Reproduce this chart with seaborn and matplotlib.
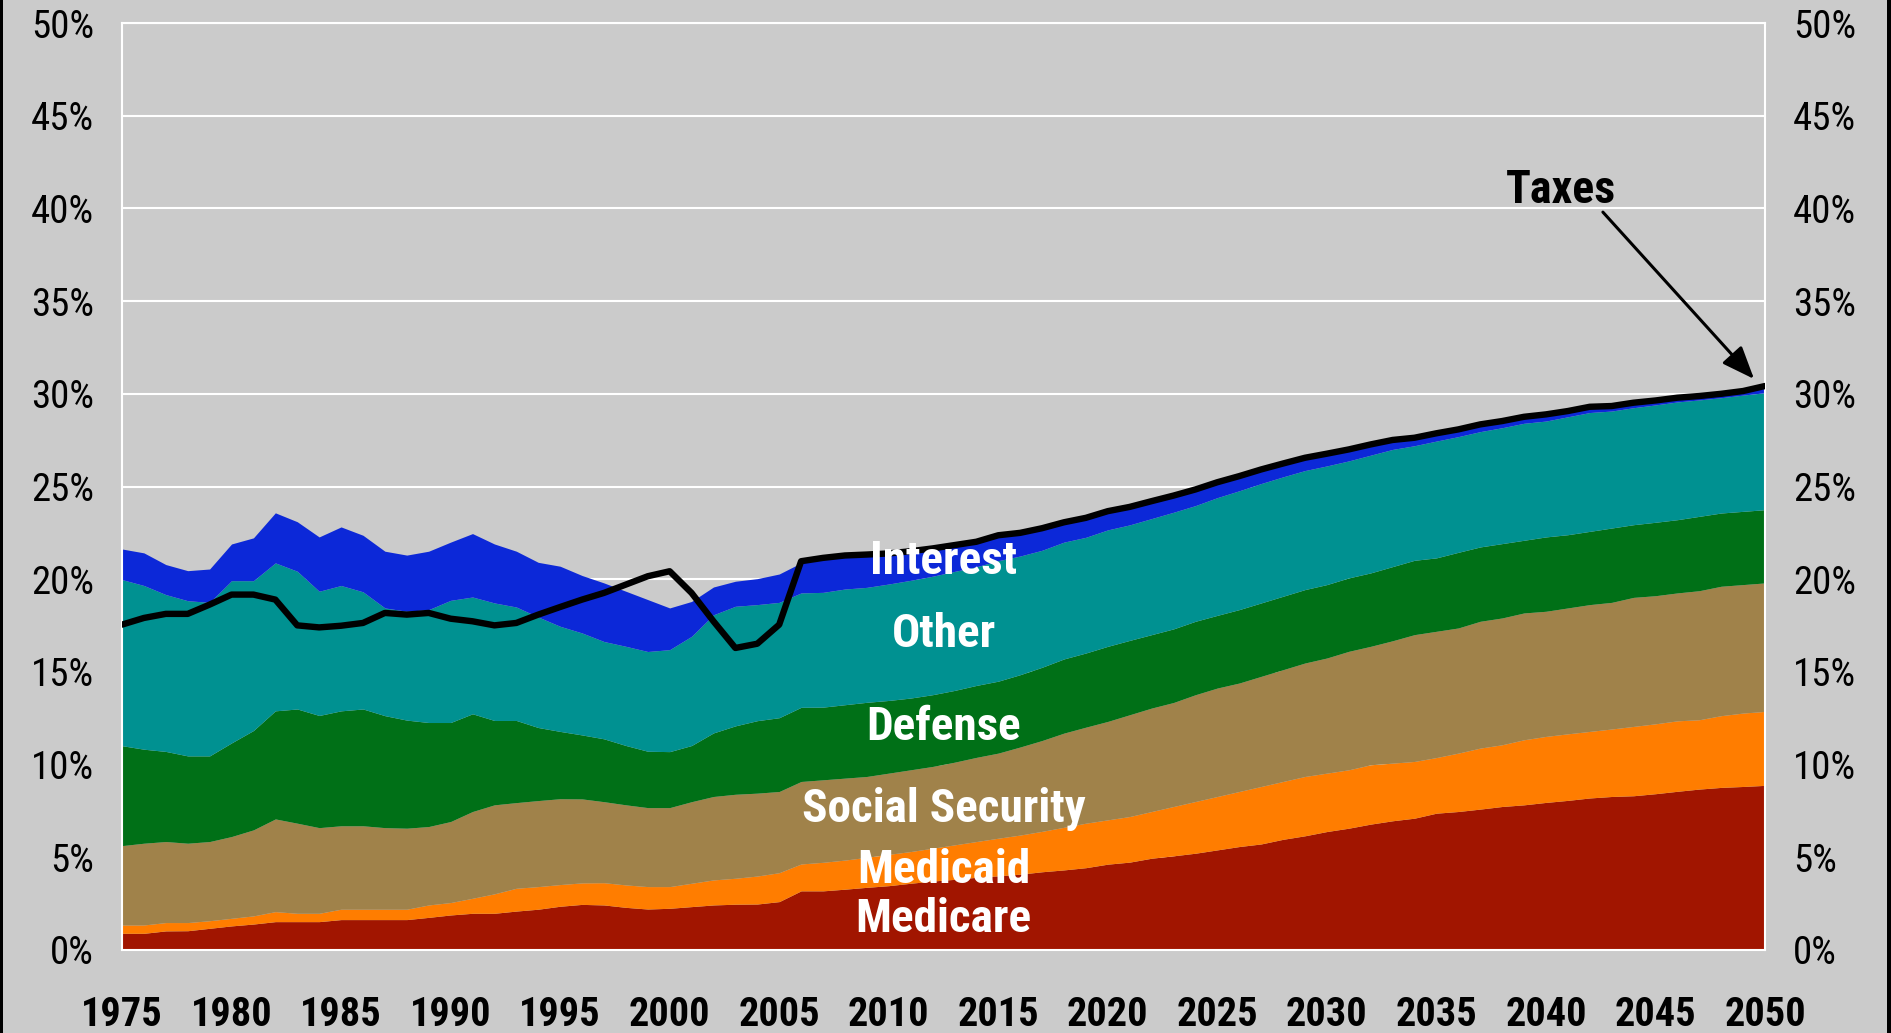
import numpy as np
import pandas as pd
import matplotlib
matplotlib.use("Agg")
import matplotlib.pyplot as plt
from matplotlib.patches import Rectangle
from matplotlib import font_manager
import seaborn as sns

# ---------------- data (percent of GDP; upper edge of each stacked band) ----------------
years = list(range(1975, 2051))

medicare_top = [0.90, 0.90, 1.03, 1.04, 1.17, 1.30, 1.40, 1.53, 1.53, 1.53,
                1.64, 1.64, 1.64, 1.64, 1.76, 1.89, 1.98, 1.98, 2.10, 2.20,
                2.36, 2.46, 2.43, 2.30, 2.21, 2.25, 2.34, 2.43, 2.47, 2.48,
                2.61, 3.19, 3.19, 3.28, 3.38, 3.47, 3.60, 3.72, 3.81, 3.92,
                4.00, 4.09, 4.22, 4.32, 4.44, 4.63, 4.74, 4.95, 5.08, 5.22,
                5.40, 5.58, 5.72, 5.97, 6.16, 6.39, 6.57, 6.79, 6.97, 7.11,
                7.38, 7.47, 7.60, 7.74, 7.83, 7.96, 8.07, 8.20, 8.28, 8.32,
                8.43, 8.56, 8.68, 8.77, 8.82, 8.88]

medicaid_top = [1.35, 1.35, 1.48, 1.48, 1.58, 1.71, 1.84, 2.07, 1.98, 1.98,
                2.20, 2.20, 2.20, 2.20, 2.43, 2.56, 2.79, 3.03, 3.33, 3.42,
                3.53, 3.62, 3.63, 3.51, 3.42, 3.42, 3.60, 3.78, 3.87, 3.99,
                4.17, 4.64, 4.73, 4.85, 5.00, 5.16, 5.31, 5.49, 5.67, 5.85,
                6.03, 6.20, 6.40, 6.62, 6.84, 7.02, 7.20, 7.47, 7.74, 8.01,
                8.28, 8.55, 8.82, 9.09, 9.36, 9.54, 9.72, 9.99, 10.08, 10.17,
                10.38, 10.62, 10.89, 11.07, 11.34, 11.52, 11.66, 11.79, 11.92, 12.06,
                12.20, 12.36, 12.42, 12.64, 12.78, 12.87]

socsec_top = [5.63, 5.76, 5.85, 5.76, 5.85, 6.12, 6.48, 7.07, 6.84, 6.60,
              6.70, 6.70, 6.60, 6.57, 6.66, 6.93, 7.47, 7.83, 7.95, 8.06,
              8.16, 8.15, 8.00, 7.83, 7.68, 7.68, 8.00, 8.28, 8.40, 8.46,
              8.55, 9.09, 9.18, 9.27, 9.36, 9.54, 9.72, 9.90, 10.13, 10.39,
              10.62, 10.95, 11.30, 11.70, 12.02, 12.33, 12.69, 13.05, 13.35, 13.77,
              14.13, 14.40, 14.76, 15.12, 15.48, 15.75, 16.11, 16.38, 16.68, 17.01,
              17.19, 17.37, 17.73, 17.91, 18.18, 18.27, 18.45, 18.63, 18.75, 19.02,
              19.11, 19.26, 19.38, 19.62, 19.71, 19.80]

defense_top = [11.02, 10.83, 10.71, 10.47, 10.47, 11.17, 11.84, 12.90, 13.00, 12.65,
               12.90, 13.00, 12.64, 12.40, 12.27, 12.27, 12.74, 12.38, 12.38, 12.00,
               11.79, 11.60, 11.39, 11.03, 10.72, 10.70, 11.03, 11.71, 12.09, 12.37,
               12.53, 13.09, 13.10, 13.23, 13.36, 13.46, 13.59, 13.77, 14.00, 14.27,
               14.50, 14.85, 15.25, 15.70, 16.02, 16.38, 16.70, 17.01, 17.32, 17.73,
               18.05, 18.36, 18.72, 19.08, 19.44, 19.71, 20.07, 20.34, 20.68, 21.02,
               21.15, 21.45, 21.74, 21.92, 22.10, 22.28, 22.40, 22.58, 22.76, 22.94,
               23.07, 23.21, 23.39, 23.57, 23.66, 23.75]

other_top = [19.98, 19.66, 19.17, 18.84, 18.75, 19.92, 19.92, 20.88, 20.43, 19.35,
             19.66, 19.32, 18.45, 18.27, 18.36, 18.86, 19.04, 18.72, 18.50, 17.96,
             17.46, 17.10, 16.64, 16.38, 16.10, 16.20, 16.92, 18.08, 18.54, 18.63,
             18.75, 19.26, 19.29, 19.47, 19.56, 19.74, 19.94, 20.16, 20.42, 20.67,
             21.00, 21.25, 21.56, 22.00, 22.26, 22.66, 22.93, 23.27, 23.61, 23.97,
             24.40, 24.77, 25.16, 25.52, 25.86, 26.11, 26.38, 26.69, 27.00, 27.20,
             27.45, 27.69, 27.96, 28.17, 28.41, 28.53, 28.76, 28.99, 29.07, 29.25,
             29.40, 29.56, 29.67, 29.79, 29.93, 30.06]

interest_top = [21.63, 21.42, 20.79, 20.46, 20.55, 21.90, 22.23, 23.58, 23.10, 22.28,
                22.82, 22.37, 21.51, 21.30, 21.51, 22.00, 22.46, 21.90, 21.51, 20.91,
                20.70, 20.20, 19.80, 19.35, 18.90, 18.45, 18.80, 19.58, 19.89, 20.03,
                20.28, 20.88, 21.10, 21.22, 21.30, 21.37, 21.48, 21.63, 21.80, 21.98,
                22.30, 22.45, 22.68, 23.02, 23.28, 23.63, 23.88, 24.18, 24.48, 24.80,
                25.18, 25.52, 25.88, 26.20, 26.50, 26.73, 26.96, 27.23, 27.48, 27.60,
                27.83, 28.03, 28.30, 28.48, 28.70, 28.84, 29.02, 29.25, 29.30, 29.47,
                29.60, 29.75, 29.84, 29.96, 30.10, 30.30]

taxes = [17.55, 17.91, 18.13, 18.13, 18.63, 19.17, 19.17, 18.90, 17.51, 17.40,
         17.49, 17.64, 18.18, 18.09, 18.18, 17.87, 17.73, 17.51, 17.64, 18.09,
         18.50, 18.90, 19.26, 19.71, 20.16, 20.43, 19.26, 17.73, 16.29, 16.52,
         17.55, 20.97, 21.15, 21.28, 21.33, 21.39, 21.51, 21.66, 21.84, 22.02,
         22.37, 22.50, 22.75, 23.07, 23.31, 23.67, 23.90, 24.21, 24.51, 24.84,
         25.23, 25.56, 25.92, 26.24, 26.55, 26.77, 27.00, 27.27, 27.51, 27.63,
         27.87, 28.08, 28.35, 28.53, 28.76, 28.89, 29.07, 29.30, 29.34, 29.52,
         29.64, 29.79, 29.88, 30.00, 30.15, 30.42]

series_names = ["Medicare", "Medicaid", "Social Security", "Defense", "Other", "Interest"]
series_colors = ["#A11500", "#FF7D00", "#A0824A", "#007017", "#009191", "#0C28D8"]

x_tick_labels = ["1975", "1980", "1985", "1990", "1995", "2000", "2005", "2010",
                 "2015", "2020", "2025", "2030", "2035", "2040", "2045", "2050"]
y_tick_labels = ["0%", "5%", "10%", "15%", "20%", "25%", "30%", "35%", "40%", "45%", "50%"]

# ---------------- derive band thicknesses ----------------
tops = np.array([medicare_top, medicaid_top, socsec_top, defense_top, other_top, interest_top])
bands = np.diff(np.vstack([np.zeros(len(years)), tops]), axis=0)
df_tax = pd.DataFrame({"year": years, "taxes": taxes})

# ---------------- style ----------------
BG = "#CBCBCB"
sns.set_theme(style="white")

names = {f.name for f in font_manager.fontManager.ttflist}
cond_candidates = ["Liberation Sans Narrow", "Roboto Condensed", "Open Sans Condensed",
                   "DejaVu Sans Condensed", "Noto Sans Condensed"]
cond = [n for n in cond_candidates if n in names]
has_dejavu_cond = any(f.name == "DejaVu Sans" and str(f.stretch) in ("condensed", "semi-condensed")
                      for f in font_manager.fontManager.ttflist)
plt.rcParams["font.family"] = cond + ["DejaVu Sans"]
if not cond and has_dejavu_cond:
    plt.rcParams["font.stretch"] = "condensed"
plt.rcParams["text.color"] = "black"
plt.rcParams["xtick.color"] = "black"
plt.rcParams["ytick.color"] = "black"

W, H, DPI = 1891, 1033, 100
fig = plt.figure(figsize=(W / DPI, H / DPI), dpi=DPI, facecolor=BG)
ax = fig.add_axes([122 / W, 83 / H, (1765 - 122) / W, (950 - 23) / H])
ax.set_facecolor(BG)

ax.stackplot(years, bands, colors=series_colors, linewidth=0, zorder=1)
ax.fill_between(years, 0, taxes, facecolor="none", edgecolor="black", linewidth=1.2, zorder=2)

sns.lineplot(data=df_tax, x="year", y="taxes", color="black", linewidth=4.6, ax=ax, zorder=4)

ax.set_xlim(1975, 2050)
ax.set_ylim(0, 50)
ax.set_xlabel("")
ax.set_ylabel("")

ax.set_xticks(np.arange(1975, 2051, 5))
ax.set_xticks(np.arange(1975, 2051, 1), minor=True)
ax.set_xticklabels(x_tick_labels)
ax.set_yticks(np.arange(0, 51, 5))
ax.set_yticklabels(y_tick_labels)

ax.set_axisbelow(True)
ax.yaxis.grid(True, color="white", linewidth=1.5)
ax.xaxis.grid(False)

ax.tick_params(axis="x", which="both", direction="in", color="white", length=9, width=1.1,
               bottom=True, top=False, pad=33, labelsize=29, labelcolor="black")
ax.tick_params(axis="y", which="major", direction="in", color="white", length=8, width=1.1,
               left=True, right=True, labelleft=True, labelright=True, pad=20, labelsize=28,
               labelcolor="black")
for lab in ax.get_xticklabels():
    lab.set_fontweight("bold")

for sp in ax.spines.values():
    sp.set_color("white")
    sp.set_linewidth(1.5)
    sp.set_visible(True)

label_pos = {"Interest": 21.0, "Other": 17.06, "Defense": 12.04,
             "Social Security": 7.61, "Medicaid": 4.32, "Medicare": 1.67}
for name, yv in label_pos.items():
    ax.text(2012.5, yv, name, color="white", fontsize=34, fontweight="bold",
            ha="center", va="center", zorder=5)

ax.text(2040.7, 41.0, "Taxes", color="black", fontsize=33, fontweight="bold",
        ha="center", va="center", zorder=5)
ax.annotate("", xy=(2049.5, 30.8), xytext=(2042.6, 39.8),
            arrowprops=dict(arrowstyle="-|>,head_length=1.0,head_width=0.4",
                            color="black", lw=2.2, mutation_scale=20,
                            shrinkA=0, shrinkB=0), zorder=6)

fig.patches.append(Rectangle((0, 0), 3 / W, 1, transform=fig.transFigure,
                             facecolor="black", edgecolor="none", zorder=10))
fig.patches.append(Rectangle((1 - 4 / W, 0), 4 / W, 1, transform=fig.transFigure,
                             facecolor="black", edgecolor="none", zorder=10))

fig.savefig("out.png", dpi=DPI, facecolor=BG)
